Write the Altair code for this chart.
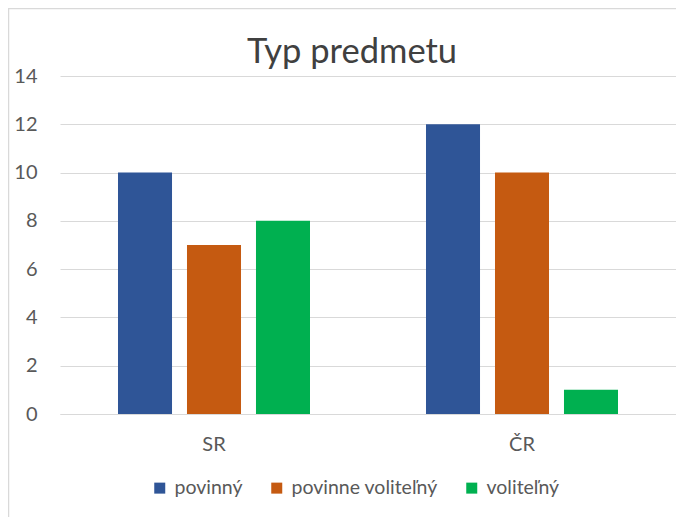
import altair as alt
import pandas as pd

regions = ["SR", "ČR"]
series = ["povinný", "povinne voliteľný", "voliteľný"]
values_sr = [10, 7, 8]
values_cr = [12, 10, 1]
colors = ["#2F5597", "#C55A11", "#00B050"]
y_ticks = [0, 2, 4, 6, 8, 10, 12, 14]

rows = []
for s, v in zip(series, values_sr):
    rows.append({"region": "SR", "typ": s, "pocet": v})
for s, v in zip(series, values_cr):
    rows.append({"region": "ČR", "typ": s, "pocet": v})
df = pd.DataFrame(rows)

FONT = "Lato"
TXT = "#595959"

bars = alt.Chart(df).mark_bar().encode(
    x=alt.X("region:N", sort=regions, title=None,
            scale=alt.Scale(paddingInner=0.3766, paddingOuter=0.1883),
            axis=alt.Axis(labelAngle=0, ticks=False, domain=True, domainColor="#d9d9d9",
                          labelPadding=20, labelFontSize=20, labelColor=TXT, labelFont=FONT)),
    xOffset=alt.XOffset("typ:N", sort=series,
                        scale=alt.Scale(paddingInner=0.217, paddingOuter=0)),
    y=alt.Y("pocet:Q", title=None,
            scale=alt.Scale(domain=[0, 14]),
            axis=alt.Axis(values=y_ticks, ticks=False, domain=False, gridColor="#d9d9d9",
                          labelPadding=23, labelFontSize=20, labelColor=TXT, labelFont=FONT)),
    color=alt.Color("typ:N", sort=series, title=None,
                    scale=alt.Scale(domain=series, range=colors),
                    legend=alt.Legend(orient="none", direction="horizontal",
                                      legendX=90, legendY=402,
                                      symbolType="square", symbolSize=121,
                                      symbolStrokeWidth=0, labelFontSize=19.5,
                                      labelColor=TXT, labelFont=FONT,
                                      columnPadding=24, labelOffset=5)),
)

border = alt.Chart(alt.Data(values=[{}])).mark_rect(
    fill="transparent", stroke="#d9d9d9", strokeWidth=1.5
).encode(
    x=alt.value(-51.5), x2=alt.value(700), y=alt.value(-67.5), y2=alt.value(700)
)

chart = alt.layer(bars, border).properties(
    width=616, height=338,
    title=alt.TitleParams("Typ predmetu", fontSize=34.5, font=FONT, fontWeight="normal",
                          color="#404040", anchor="middle", offset=0, dy=63, dx=-16),
    autosize=alt.AutoSizeParams(type="none"),
    padding={"left": 52, "top": 68, "right": 0, "bottom": 110},
).configure(background="white").configure_view(stroke=None)

chart.save("out.html", embed_options={"renderer": "svg", "actions": False})
